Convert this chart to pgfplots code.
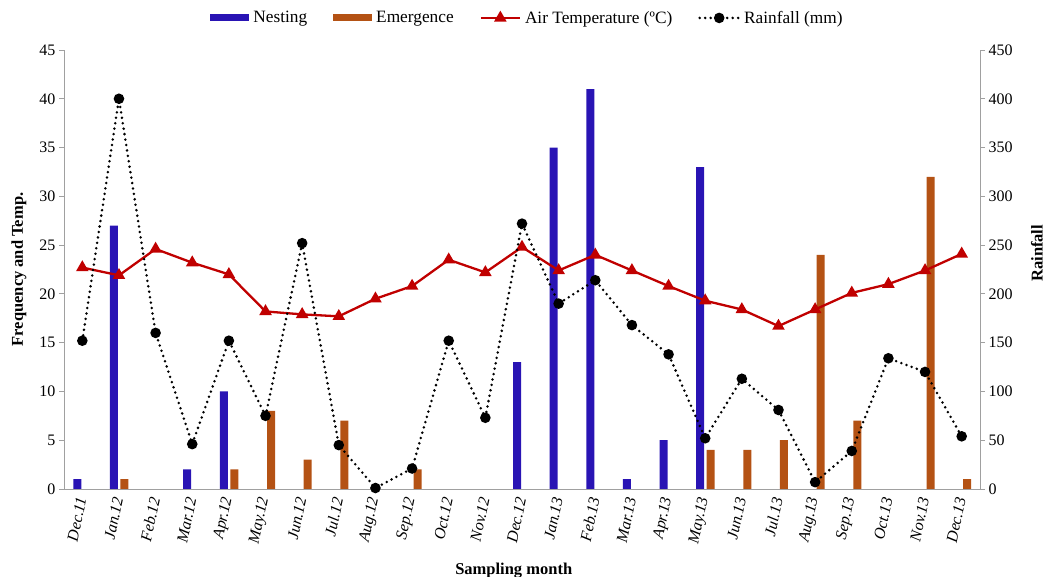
\documentclass[border=0pt]{standalone}
\usepackage{fontspec}
\setmainfont{Liberation Serif}
\usepackage{pgfplots}
\pgfplotsset{compat=1.18}
\definecolor{nestc}{RGB}{41,20,180}
\definecolor{emerc}{RGB}{180,82,20}
\definecolor{tempc}{RGB}{192,0,0}
\definecolor{axc}{RGB}{160,160,160}
\begin{document}
\begin{tikzpicture}
\pgfplotsset{
  base/.style={
    scale only axis, width=916pt, height=439pt,
    at={(0,0)}, anchor=south west,
    xmin=-0.5, xmax=24.5,
    axis line style={draw=axc, line width=0.8pt, -},
    tick style={draw=axc, line width=0.8pt},
    tick align=outside, major tick length=5pt,
    /pgf/number format/assume math mode=true,
    tick label style={font=\fontsize{16}{18}\selectfont},
    label style={font=\fontsize{16.5}{19}\selectfont\bfseries},
  },
  barleg/.style={legend image code/.code={\fill[##1] (0pt,-3.5pt) rectangle (39pt,3.5pt);}},
  lineleg/.style={legend image code/.code={\draw[##1] (0pt,0pt) -- (19.5pt,0pt) -- (39pt,0pt); \path[##1, only marks] plot coordinates {(19.5pt,0pt)};}},
}
\begin{axis}[base, name=ax,
  axis y line*=left, axis x line*=bottom,
  ymin=0, ymax=45, ytick={0,5,...,45},
  xtick={0,...,24},
  xticklabels={Dec.11,Jan.12,Feb.12,Mar.12,Apr.12,May.12,Jun.12,Jul.12,Aug.12,Sep.12,Oct.12,Nov.12,Dec.12,Jan.13,Feb.13,Mar.13,Apr.13,May.13,Jun.13,Jul.13,Aug.13,Sep.13,Oct.13,Nov.13,Dec.13},
  xtick style={draw=none},
  xticklabel style={rotate=78, anchor=east, font=\fontsize{16}{18}\selectfont\itshape},
  ylabel={Frequency and Temp.},
  ylabel style={at={([xshift=-45pt]axis description cs:0,0.5)}, anchor=center},
  xlabel={Sampling month},
  xlabel style={at={([yshift=-71pt]axis description cs:0.491,0)}, anchor=north},
  legend columns=4,
  legend style={at={(0.506,1.073)}, anchor=center, draw=none, fill=none,
    font=\fontsize{17.3}{20}\selectfont, column sep=2pt,
    /tikz/every even column/.append style={column sep=24pt}},
  legend cell align=left,
]
\addplot[ybar, bar width=8pt, bar shift=-5pt, fill=nestc, draw=none, barleg]
  coordinates {(0,1) (1,27) (3,2) (4,10) (12,13) (13,35) (14,41) (15,1) (16,5) (17,33)};
\addlegendentry{Nesting}
\addplot[ybar, bar width=8pt, bar shift=5.5pt, fill=emerc, draw=none, barleg]
  coordinates {(1,1) (4,2) (5,8) (6,3) (7,7) (9,2) (17,4) (18,4) (19,5) (20,24) (21,7) (23,32) (24,1)};
\addlegendentry{Emergence}
\addplot[tempc, line width=2.3pt, mark=triangle*, mark size=5pt, mark options={solid}, lineleg]
  coordinates {(0,22.7) (1,21.9) (2,24.6) (3,23.2) (4,22.0) (5,18.2) (6,17.9) (7,17.7) (8,19.5) (9,20.8) (10,23.5) (11,22.2) (12,24.8) (13,22.4) (14,24.0) (15,22.4) (16,20.8) (17,19.3) (18,18.4) (19,16.7) (20,18.4) (21,20.1) (22,21.0) (23,22.4) (24,24.1)};
\addlegendentry{Air Temperature (ºC)}
\addlegendimage{black, line width=2.8pt, line cap=round, dash pattern=on 0pt off 5.5pt, mark=*, mark size=3.8pt, mark options={solid}, lineleg}
\addlegendentry{Rainfall (mm)}
\end{axis}
\begin{axis}[base,
  axis y line*=right, axis x line=none,
  ymin=0, ymax=450, ytick={0,50,...,450},
  yticklabel style={anchor=west},
  ylabel={Rainfall},
  ylabel style={at={([xshift=57pt]axis description cs:1,0.537)}, anchor=center},
]
\addplot[black, line width=2.8pt, line cap=round, dash pattern=on 0pt off 5.5pt, mark=*, mark size=3.8pt, mark options={solid}]
  coordinates {(0,152) (1,400) (2,160) (3,46) (4,152) (5,75) (6,252) (7,45) (8,1) (9,21) (10,152) (11,73) (12,272) (13,190) (14,214) (15,168) (16,138) (17,52) (18,113) (19,81) (20,7) (21,39) (22,134) (23,120) (24,54)};
\end{axis}
\pgfresetboundingbox
\path[use as bounding box] (-64pt,-88pt) rectangle (984pt,489pt);
\end{tikzpicture}
\end{document}
